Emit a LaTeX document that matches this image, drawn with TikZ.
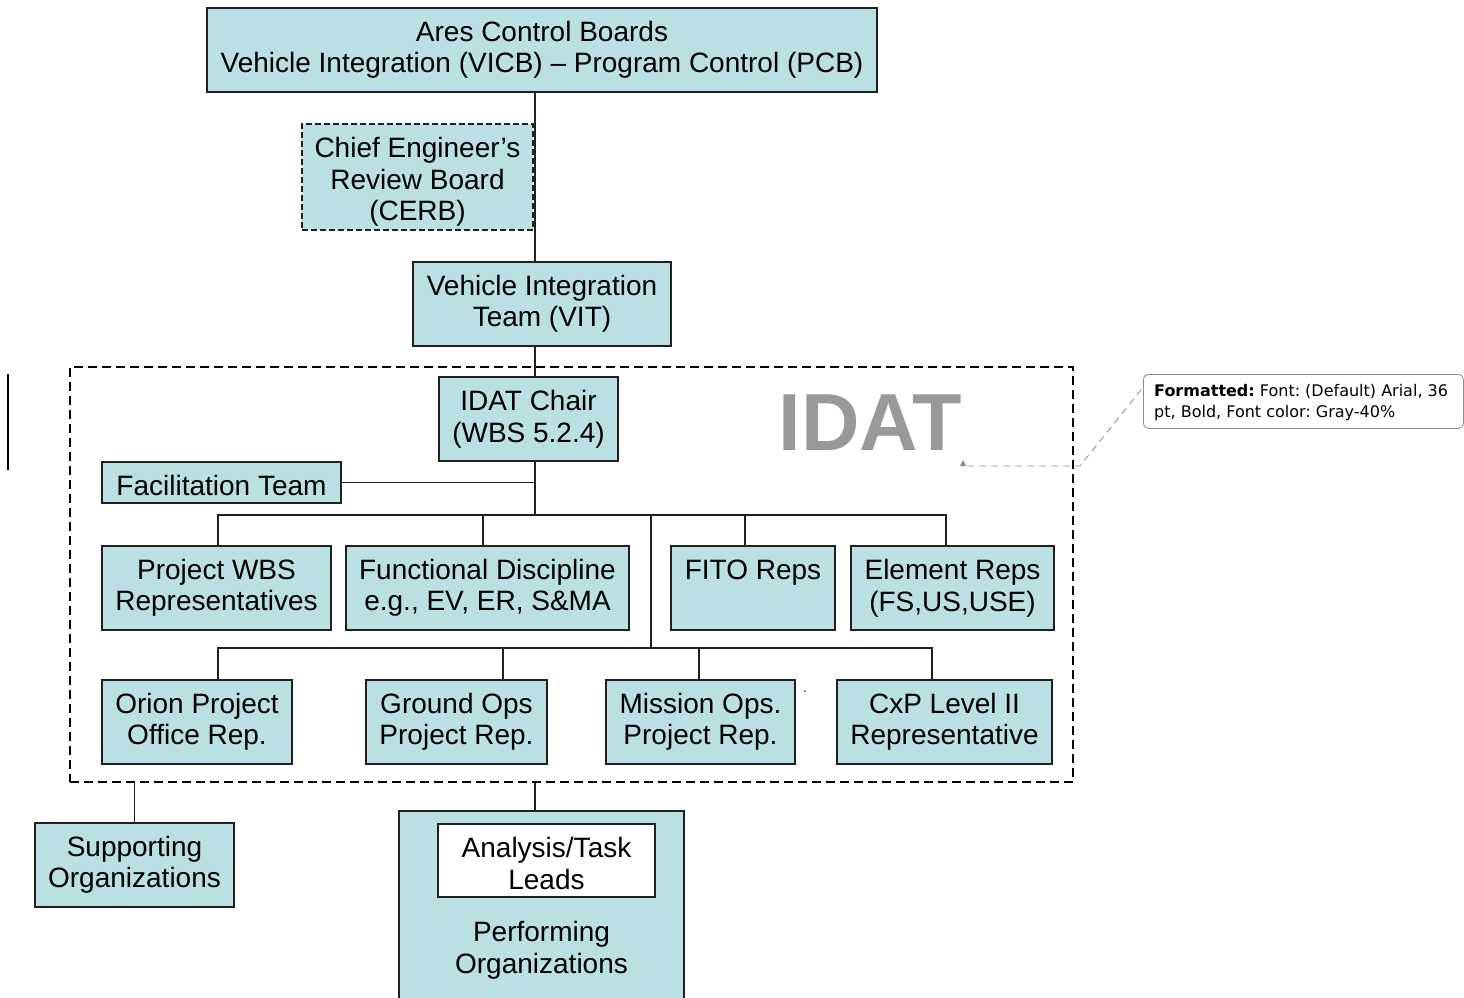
\documentclass[tikz,border=0pt]{standalone}
\usepackage{fontspec}
\setmainfont{Liberation Sans}
\newfontfamily\notefont{DejaVu Sans}
\usetikzlibrary{calc}

\definecolor{boxfill}{HTML}{BBE0E3}
\definecolor{boxline}{HTML}{202020}
\definecolor{idatgray}{HTML}{999999}
\definecolor{notegray}{HTML}{8C8C8C}

\begin{document}
\begin{tikzpicture}[x=1pt,y=-1pt,
  boxtext/.style={align=center, inner sep=0pt, font=\fontsize{28}{31.5}\selectfont},
  box/.style={boxtext, draw=boxline, line width=1.6pt, fill=boxfill},
  wh/.style 2 args={minimum width=#1pt, minimum height=#2pt},
  link/.style={draw=boxline, line width=1.4pt},
  groupframe/.style={draw=black, line width=1.8pt, dash pattern=on 9pt off 5pt, inner sep=0pt},
  boardframe/.style={dash pattern=on 6pt off 3pt, line width=1.3pt},
  notelink/.style={draw=notegray, line width=0.8pt, dash pattern=on 7pt off 5pt}]

\useasboundingbox (0,0) rectangle (1464,998);
\clip (0,0) rectangle (1464,998);

% dashed IDAT group frame
\node[groupframe, wh={1003}{415}] (idat) at (571.5,574.5) {};
\node[font=\bfseries\fontsize{81}{81}\selectfont, text=idatgray, anchor=base, inner sep=0pt]
  (idatlabel) at (870,450) {IDAT};

% boards and teams above the group
\node[box, wh={670}{84}] (acb) at (542,50)
  {Ares Control Boards\\Vehicle Integration (VICB) – Program Control (PCB)};
\node[box, boardframe, wh={231}{106}] (cerb) at (417.5,177) {};
\node[boxtext] (cerbtext) at ([yshift=-5pt]cerb.center)
  {Chief Engineer’s\\Review Board\\(CERB)};
\node[box, wh={258}{84}] (vit) at (542,304) {Vehicle Integration\\Team (VIT)};

% inside the group
\node[box, wh={179}{84}] (chair) at (528.5,419) {IDAT Chair\\(WBS 5.2.4)};
\node[box, wh={239}{41}, text height=27pt] (facil) at (221.5,482.5) {Facilitation Team};

\node[box, wh={229}{84}] (wbs)  at (216.5,588) {Project WBS\\Representatives};
\node[box, wh={283}{84}] (func) at (487.5,588) {Functional Discipline\\e.g., EV, ER, S\&MA};
\node[box, wh={164}{84}] (fito) at (753,588)   {FITO Reps\\\vphantom{p}};
\node[box, wh={203}{84}] (elem) at (952.5,588) {Element Reps\\(FS,US,USE)};

\node[box, wh={190}{84}] (orion)   at (197,722)   {Orion Project\\Office Rep.};
\node[box, wh={181}{84}] (ground)  at (456.5,722) {Ground Ops\\Project Rep.};
\node[box, wh={189}{84}] (mission) at (700.5,722) {Mission Ops.\\Project Rep.};
\node[box, wh={215}{84}] (cxp)     at (944.5,722) {CxP Level II\\Representative};

% below the group
\node[box, wh={199}{84}] (support) at (134.5,865) {Supporting\\Organizations};
\node[box, wh={285}{195}] (perf) at (541.5,908.5) {};
\node[box, fill=white, wh={217}{73}] (tasks) at (546.5,860.5) {};
\node[boxtext] (taskstext) at ([yshift=-3pt]tasks.center) {Analysis/Task\\Leads};
\node[boxtext] (perflabel) at (541.5,950) {Performing\\Organizations};

% connectors
\coordinate (spine) at (535,0);
\coordinate (bus1) at (0,515);
\coordinate (bus2) at (0,648);
\coordinate (split) at (651,0);

\draw[link] (acb.south -| spine) -- (vit.north -| spine);
\draw[link] (vit.south -| spine) -- (chair.north -| spine);
\draw[link] (chair.south -| spine) -- (bus1 -| spine);
\draw[link] (facil.east) -- (facil.east -| spine);

\coordinate (wbsT)  at ([xshift=1.5pt]wbs.north);
\coordinate (funcT) at ([xshift=-4.5pt]func.north);
\coordinate (fitoT) at ([xshift=-8pt]fito.north);
\coordinate (elemT) at ([xshift=-6.5pt]elem.north);
\draw[link] (wbsT) |- (bus1 -| elemT) -- (elemT);
\draw[link] (funcT) -- (funcT |- bus1);
\draw[link] (fitoT) -- (fitoT |- bus1);
\draw[link] (bus1 -| split) -- (bus2 -| split);

\coordinate (orionT)   at ([xshift=21pt]orion.north);
\coordinate (groundT)  at ([xshift=46.5pt]ground.north);
\coordinate (missionT) at ([xshift=-1.5pt]mission.north);
\coordinate (cxpT)     at ([xshift=-12.5pt]cxp.north);
\draw[link] (orionT) |- (bus2 -| cxpT) -- (cxpT);
\draw[link] (groundT) -- (groundT |- bus2);
\draw[link] (missionT) -- (missionT |- bus2);

\draw[link] (support.north) -- (support.north |- idat.south);
\draw[link] (perf.north -| spine) -- (idat.south -| spine);

% review comment balloon
\node[draw=notegray, line width=0.8pt, rounded corners=5pt, anchor=north west,
      text width=300pt, inner xsep=10pt, inner ysep=0pt, minimum height=54pt,
      align=left, font=\notefont\fontsize{16}{21}\selectfont\frenchspacing]
  (note) at (1143,374) {};
\node[anchor=north west, inner sep=0pt, align=left,
      font=\notefont\fontsize{16}{21}\selectfont\frenchspacing]
  (notetext) at ([xshift=11pt, yshift=-10pt]note.north west)
  {\textbf{Formatted:} Font: (Default) Arial, 36\\pt, Bold, Font color: Gray-40\%};
\coordinate (mark) at (963,466);
\coordinate (bend) at (1080,466);
\fill[notegray] ([xshift=-3pt]mark) -- ([xshift=3pt]mark) -- ([yshift=6pt]mark) -- cycle;
\draw[notelink] ([xshift=4pt]mark) -- (bend) -- ([yshift=14pt]note.west);

% change bar and stray dot
\coordinate (barTop) at (8,374);
\coordinate (barBot) at (8,470);
\draw[line width=1.4pt, black] (barTop) -- (barBot);
\fill[boxline] (805,691) circle (0.8pt);
\end{tikzpicture}
\end{document}
